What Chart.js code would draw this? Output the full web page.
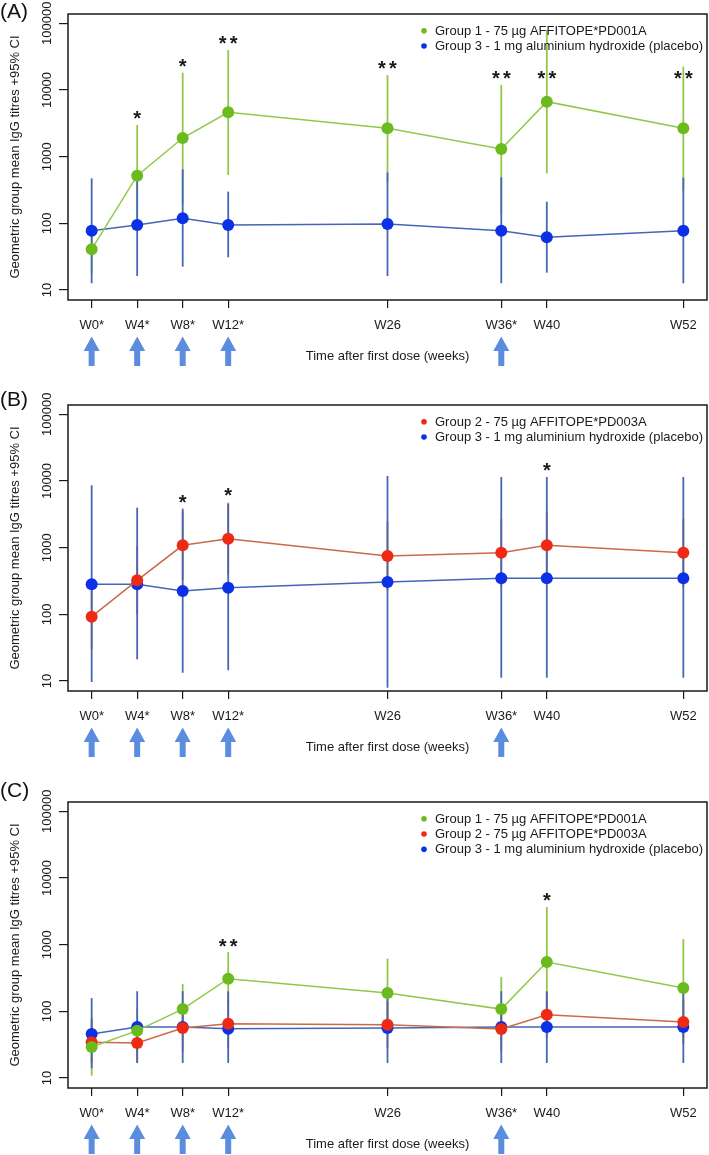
<!DOCTYPE html>
<html><head><meta charset="utf-8">
<script src="https://cdn.jsdelivr.net/npm/chart.js@4.4.0/dist/chart.umd.min.js"></script>
<style>
body{margin:0;background:#fff;width:709px;height:1155px;position:relative;overflow:hidden;font-family:Arial,"Liberation Sans",sans-serif}
.panel{position:absolute;left:0;width:709px;height:367px}
.tag{position:absolute;left:0;font-size:21px;line-height:21px;color:#111;font-family:Arial,"Liberation Sans",sans-serif}
</style></head><body>
<div class="panel" style="top:0"><canvas id="cA" width="709" height="367"></canvas></div>
<div class="panel" style="top:391px"><canvas id="cB" width="709" height="367"></canvas></div>
<div class="panel" style="top:788px"><canvas id="cC" width="709" height="367"></canvas></div>
<div class="tag" style="top:0px">(A)</div>
<div class="tag" style="top:388px">(B)</div>
<div class="tag" style="top:779px">(C)</div>
<script>
// ---------- data ----------
const weeks = [0, 4, 8, 12, 26, 36, 40, 52];
const weekLabels = ['W0*', 'W4*', 'W8*', 'W12*', 'W26', 'W36*', 'W40', 'W52'];
const doseWeeks = [0, 4, 8, 12, 36];
const yTicks = [10, 100, 1000, 10000, 100000];
const yTickLabels = ['10', '100', '1000', '10000', '100000'];

const labelG1 = 'Group 1 - 75 µg AFFITOPE*PD001A';
const labelG2 = 'Group 2 - 75 µg AFFITOPE*PD003A';
const labelG3 = 'Group 3 - 1 mg aluminium hydroxide (placebo)';

// Panel A
const a_g1   = [41, 519, 1905, 4624, 2661, 1303, 6683, 2661];
const a_g1Lo = [18, 90, 197, 531, 420, 141, 562, 310];
const a_g1Hi = [95, 2985, 18200, 39800, 16800, 11900, 79400, 22400];
const a_g3   = [77.6, 94.4, 119, 94.4, 97.7, 77.6, 61.7, 77.6];
const a_g3Lo = [12.6, 16.2, 22.4, 30.9, 16.2, 12.6, 18.2, 12.6];
const a_g3Hi = [473, 562, 646, 299, 582, 490, 211, 484];
const a_sig   = ['', '*', '*', '**', '**', '**', '**', '**'];
const a_sigAt = [null, 4470, 26600, 59600, 25100, 17800, 17800, 17800];

// Panel B
const b_g2   = [92.3, 324, 1084, 1365, 750, 841, 1084, 841];
const b_g2Lo = [30, 100, 330, 394, 230, 260, 330, 260];
const b_g2Hi = [290, 1050, 3500, 4730, 2450, 2700, 3500, 2700];
const b_g3   = [282, 282, 224, 251, 305, 347, 347, 347];
const b_g3Lo = [9.66, 21.1, 13.3, 14.5, 7.94, 11.2, 11.2, 11.2];
const b_g3Hi = [8610, 3981, 3846, 4500, 11900, 11480, 11480, 11480];
const b_sig   = ['', '', '*', '*', '', '', '*', ''];
const b_sigAt = [null, null, 5620, 7080, null, null, 17200, null];

// Panel C
const c_g1   = [29.2, 51.3, 108, 309, 188, 108, 550, 224];
const c_g1Lo = [10.8, 24, 45, 123, 57, 36, 82, 41];
const c_g1Hi = [80, 110, 257, 776, 617, 327, 3673, 1216];
const c_g2   = [34.3, 33.5, 56.2, 65.3, 63.1, 54.3, 89.1, 69.2];
const c_g2Lo = [17, 17, 25, 28, 28, 25, 40, 32];
const c_g2Hi = [75, 70, 130, 150, 140, 120, 190, 150];
const c_g3   = [45.7, 58.2, 58.2, 55, 56.2, 58.2, 58.2, 58.2];
const c_g3Lo = [14, 16.8, 16.8, 16.8, 16.8, 16.8, 16.8, 16.8];
const c_g3Hi = [158, 200, 200, 200, 200, 200, 200, 200];
const c_sig   = ['', '', '', '**', '', '', '*', ''];
const c_sigAt = [null, null, null, 1122, null, null, 5433, null];

// ---------- styles ----------
const STY = {
  g1: {line: '#92C84A', point: '#6CBB1E'},
  g2: {line: '#C96A4A', point: '#EE2A14'},
  g3: {line: '#4466B6', point: '#0B30E6'}
};
const FONT = 'Arial, "Liberation Sans", sans-serif';
const INK = '#1a1a1a';

const decor = {
  id: 'decor',
  beforeDatasetsDraw(chart) {
    const {ctx, chartArea: ca, scales: {x, y}} = chart;
    ctx.save();
    ctx.beginPath(); ctx.rect(ca.left, ca.top, ca.right - ca.left, ca.bottom - ca.top); ctx.clip();
    chart.data.datasets.forEach(ds => {
      ctx.strokeStyle = ds.borderColor; ctx.lineWidth = 1.8;
      weeks.forEach((w, i) => {
        const px = x.getPixelForValue(w);
        ctx.beginPath();
        ctx.moveTo(px, y.getPixelForValue(ds.lo[i]));
        ctx.lineTo(px, y.getPixelForValue(ds.hi[i]));
        ctx.stroke();
      });
    });
    ctx.restore();
  },
  afterDraw(chart) {
    const {ctx, chartArea: ca, scales: {x, y}} = chart;
    const o = chart.options.plugins.decor;
    ctx.save();
    // box
    ctx.strokeStyle = INK; ctx.lineWidth = 1.5;
    ctx.strokeRect(ca.left, ca.top, ca.right - ca.left, ca.bottom - ca.top);
    // y tick labels (rotated, parallel to axis)
    ctx.fillStyle = INK; ctx.font = '13px ' + FONT;
    ctx.textAlign = 'center'; ctx.textBaseline = 'alphabetic';
    yTicks.forEach((v, i) => {
      ctx.save();
      ctx.translate(50.5, y.getPixelForValue(v));
      ctx.rotate(-Math.PI / 2);
      ctx.fillText(yTickLabels[i], 0, 0);
      ctx.restore();
    });
    // significance asterisks
    ctx.font = 'bold 20px ' + FONT;
    o.sig.forEach((s, i) => {
      if (!s) return;
      const px = x.getPixelForValue(weeks[i]);
      const py = y.getPixelForValue(o.sigAt[i]) + 11.5;
      if (s.length === 1) ctx.fillText('*', px, py);
      else { ctx.fillText('*', px - 5.5, py); ctx.fillText('*', px + 5.5, py); }
    });
    // legend
    ctx.font = '13px ' + FONT; ctx.textAlign = 'left'; ctx.textBaseline = 'middle';
    chart.data.datasets.forEach((ds, k) => {
      const ly = 30.7 + k * 15.3;
      ctx.fillStyle = ds.pointBackgroundColor;
      ctx.beginPath(); ctx.arc(424, ly, 2.8, 0, Math.PI * 2); ctx.fill();
      ctx.fillStyle = INK; ctx.fillText(ds.label, 435, ly + 0.5);
    });
    // dose arrows
    ctx.fillStyle = '#5B8DDF';
    doseWeeks.forEach(w => {
      const px = x.getPixelForValue(w);
      ctx.beginPath();
      ctx.moveTo(px, 336.5);
      ctx.lineTo(px + 8, 351);
      ctx.lineTo(px + 3, 351);
      ctx.lineTo(px + 3, 366);
      ctx.lineTo(px - 3, 366);
      ctx.lineTo(px - 3, 351);
      ctx.lineTo(px - 8, 351);
      ctx.closePath(); ctx.fill();
    });
    ctx.restore();
  }
};

function series(label, sty, vals, lo, hi) {
  return {
    label, data: weeks.map((w, i) => ({x: w, y: vals[i]})), lo, hi,
    borderColor: sty.line, backgroundColor: sty.point,
    pointBackgroundColor: sty.point, pointBorderColor: sty.point,
    pointRadius: 6, pointBorderWidth: 0, borderWidth: 1.5, tension: 0, fill: false
  };
}

function makePanel(id, datasets, sig, sigAt) {
  new Chart(document.getElementById(id), {
    type: 'line',
    data: {datasets},
    options: {
      responsive: false, animation: false, events: [],
      layout: {padding: {top: 14, right: 2, left: 0, bottom: 0}, autoPadding: false},
      plugins: {legend: {display: false}, tooltip: {enabled: false}, decor: {sig, sigAt}},
      scales: {
        x: {
          type: 'linear', min: -2.08, max: 54.08,
          afterBuildTicks: s => { s.ticks = weeks.map(v => ({value: v})); },
          ticks: {
            callback: v => { const i = weeks.indexOf(v); return i >= 0 ? weekLabels[i] : ''; },
            autoSkip: false, maxRotation: 0, minRotation: 0, padding: 10,
            color: INK, font: {family: FONT, size: 13}
          },
          grid: {display: true, drawOnChartArea: false, drawTicks: true, tickLength: 8, color: INK, lineWidth: 1.2},
          border: {display: false},
          title: {display: true, text: 'Time after first dose (weeks)', color: INK,
                  font: {family: FONT, size: 13}, padding: {top: 0, bottom: 3.2}},
          afterFit: s => { s.height = 67; }
        },
        y: {
          type: 'logarithmic', min: Math.pow(10, 0.85), max: Math.pow(10, 5.14),
          afterBuildTicks: s => { s.ticks = yTicks.map(v => ({value: v})); },
          ticks: {display: false},
          grid: {display: true, drawOnChartArea: false, drawTicks: true, tickLength: 9, color: INK, lineWidth: 1.2},
          border: {display: false},
          title: {display: true, text: 'Geometric group mean IgG titres +95% CI', color: INK,
                  font: {family: FONT, size: 13}, padding: {top: 7.2, bottom: 0}},
          afterFit: s => { s.width = 68; }
        }
      }
    },
    plugins: [decor]
  });
}

makePanel('cA', [
  series(labelG1, STY.g1, a_g1, a_g1Lo, a_g1Hi),
  series(labelG3, STY.g3, a_g3, a_g3Lo, a_g3Hi)
], a_sig, a_sigAt);

makePanel('cB', [
  series(labelG2, STY.g2, b_g2, b_g2Lo, b_g2Hi),
  series(labelG3, STY.g3, b_g3, b_g3Lo, b_g3Hi)
], b_sig, b_sigAt);

makePanel('cC', [
  series(labelG1, STY.g1, c_g1, c_g1Lo, c_g1Hi),
  series(labelG2, STY.g2, c_g2, c_g2Lo, c_g2Hi),
  series(labelG3, STY.g3, c_g3, c_g3Lo, c_g3Hi)
], c_sig, c_sigAt);
</script>
</body></html>
